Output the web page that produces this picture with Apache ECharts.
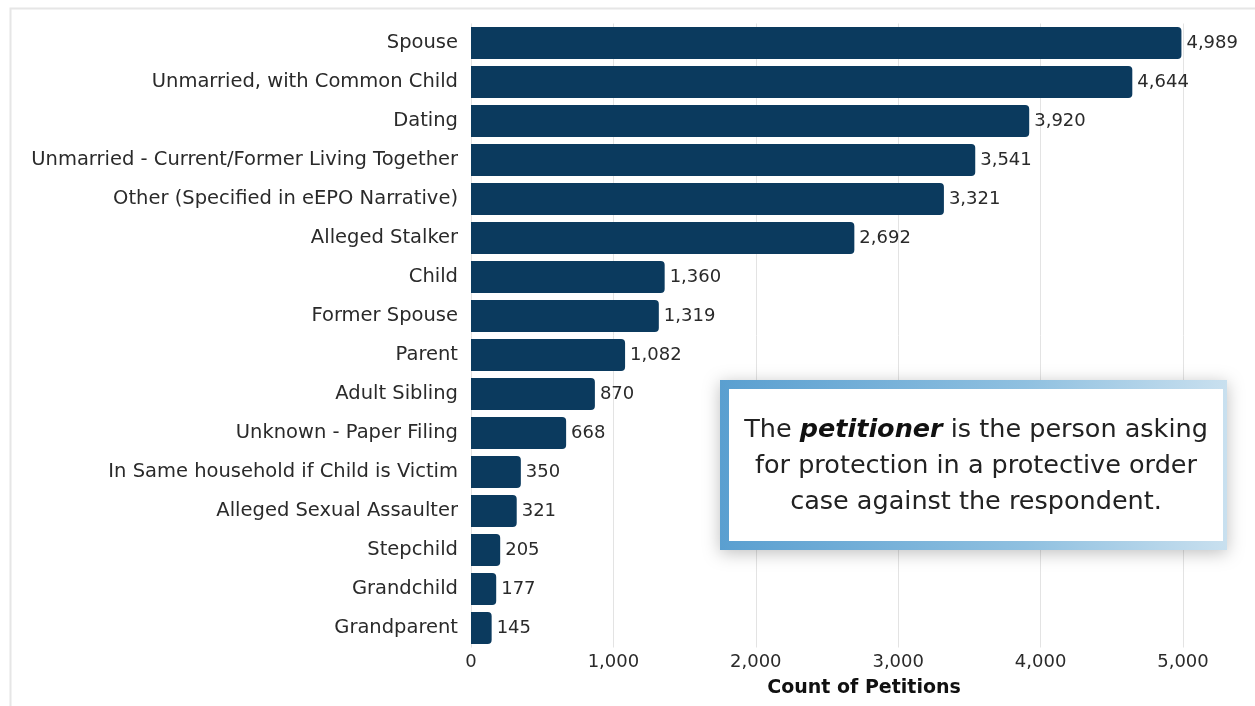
<!DOCTYPE html>
<html><head><meta charset="utf-8">
<script src="https://cdn.jsdelivr.net/npm/echarts@6/dist/echarts.min.js"></script>
<style>html,body{margin:0;padding:0;background:#fff}#c{width:1255px;height:706px}</style>
</head><body><div id="c"></div>
<script>
const categories = ["Spouse","Unmarried, with Common Child","Dating","Unmarried - Current/Former Living Together","Other (Specified in eEPO Narrative)","Alleged Stalker","Child","Former Spouse","Parent","Adult Sibling","Unknown - Paper Filing","In Same household if Child is Victim","Alleged Sexual Assaulter","Stepchild","Grandchild","Grandparent"];
const values = [4989,4644,3920,3541,3321,2692,1360,1319,1082,870,668,350,321,205,177,145];
const xTicks = [0,1000,2000,3000,4000,5000];
const FONT = '"DejaVu Sans", "Noto Sans", sans-serif';
const TXT = '#2a2a2a';
const chart = echarts.init(document.getElementById('c'));
chart.setOption({
  animation:false,
  textStyle:{fontFamily:FONT},
  grid:{left:471,right:72,top:23.5,bottom:58.5,containLabel:false},
  xAxis:{type:'value',min:0,max:5000,interval:1000,
    axisLine:{show:false},axisTick:{show:false},
    splitLine:{show:true,lineStyle:{color:'#e3e3e3',width:1}},
    axisLabel:{fontSize:18,color:TXT,margin:6,fontFamily:FONT,
      formatter:v=>v.toLocaleString('en-US')}},
  yAxis:{type:'category',data:categories,inverse:true,
    axisLine:{show:false},axisTick:{show:false},
    axisLabel:{fontSize:19.5,color:TXT,margin:13,fontFamily:FONT}},
  series:[{type:'bar',data:values,barWidth:32,
    itemStyle:{color:'#0b3a5e',borderRadius:[0,4,4,0]},
    label:{show:true,position:'right',distance:5,fontSize:18,color:TXT,fontFamily:FONT,
      formatter:p=>p.value.toLocaleString('en-US')}}],
  graphic:[
    {type:'rect',silent:true,z:-1,shape:{x:10.5,y:8.5,width:1260,height:720},style:{fill:'none',stroke:'#e6e6e6',lineWidth:2}},
    {type:'text',x:864,y:688,style:{text:'Count of Petitions',fontSize:19,fontWeight:'bold',fill:'#111',fontFamily:FONT,align:'center',verticalAlign:'middle'}},
    {type:'rect',z:10,shape:{x:720,y:380,width:507,height:170},
      style:{fill:{type:'linear',x:0,y:0,x2:1,y2:0,colorStops:[{offset:0,color:'#5a9fd0'},{offset:0.6,color:'#8fc0e0'},{offset:1,color:'#c9e0ef'}]},
        shadowBlur:16,shadowColor:'rgba(0,0,0,0.25)',shadowOffsetY:3}},
    {type:'rect',z:11,shape:{x:729,y:389,width:494,height:152},style:{fill:'#fff'}},
    {type:'text',z:12,x:976,y:466,style:{
      text:'{n|The }{b|petitioner}{n| is the person asking}\n{n|for protection in a protective order}\n{n|case against the respondent.}',
      align:'center',verticalAlign:'middle',lineHeight:36,
      rich:{n:{fontSize:25.5,fill:'#222',fontFamily:FONT,lineHeight:36},
            b:{fontSize:25.5,fill:'#111',fontWeight:'bold',fontStyle:'italic',fontFamily:FONT,lineHeight:36}}}}
  ]
});
</script></body></html>
